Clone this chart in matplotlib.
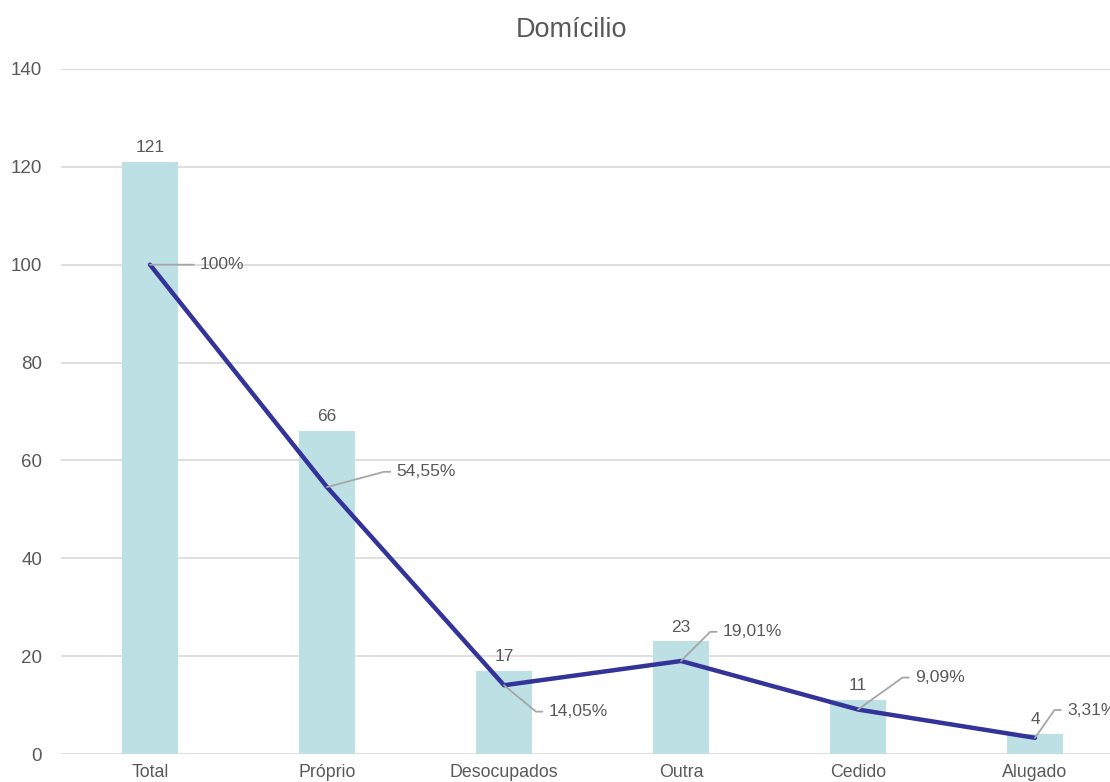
import numpy as np
import matplotlib
matplotlib.use("Agg")
import matplotlib.pyplot as plt

categories = ["Total", "Próprio", "Desocupados", "Outra", "Cedido", "Alugado"]
counts = [121, 66, 17, 23, 11, 4]
percents = [100, 54.55, 14.05, 19.01, 9.09, 3.31]
pct_labels = ["100%", "54,55%", "14,05%", "19,01%", "9,09%", "3,31%"]

# label offsets for the percentage labels (points)
pct_offsets = [(36, 0), (50, 11), (32, -19), (30, 21), (41, 23), (23, 20)]

plt.rcParams['font.family'] = ['Liberation Sans', 'DejaVu Sans']
TXT = "#595959"

fig = plt.figure(figsize=(11.1, 7.82), dpi=100)
ax = fig.add_axes([0.0554, 0.0358, 0.9568, 0.876])

x = np.arange(len(categories))
ax.bar(x, counts, width=0.316, color="#BCE0E3", zorder=2)
ax.plot(x, percents, color="#33339A", lw=3.2, solid_capstyle="round",
        solid_joinstyle="round", zorder=4)

for i, c in enumerate(counts):
    ax.annotate(str(c), xy=(i, c), xytext=(0, 5), textcoords="offset points",
                ha="center", va="bottom", fontsize=12.5, color=TXT)

for i, (p, lab) in enumerate(zip(percents, pct_labels)):
    dx, dy = pct_offsets[i]
    if dy == 0:
        cs = "arc3"
    else:
        ang = np.degrees(np.arctan2(dy, dx - 9))
        cs = "angle,angleA=0,angleB=%f,rad=0" % ang
    ax.annotate(lab, xy=(i, p), xytext=(dx, dy), textcoords="offset points",
                ha="left", va="center", fontsize=12.6, color=TXT,
                bbox=dict(boxstyle="square,pad=0.35", fc="none", ec="none"),
                arrowprops=dict(arrowstyle="-", color="#A6A6A6", lw=1.3,
                                shrinkA=0, shrinkB=0, connectionstyle=cs,
                                relpos=(0, 0.5)),
                zorder=5, annotation_clip=False)

ax.set_xlim(-0.5, len(categories) - 0.5)
ax.set_ylim(0, 140)
ax.set_yticks(np.arange(0, 141, 20))
ax.set_xticks(x)
ax.set_xticklabels(categories)
ax.tick_params(axis="y", length=0, pad=14, labelsize=13.5, labelcolor=TXT)
ax.tick_params(axis="x", length=0, pad=7, labelsize=12.8, labelcolor=TXT)
ax.grid(axis="y", color="#D9D9D9", lw=1.2, zorder=0)
ax.set_axisbelow(True)
for s in ax.spines.values():
    s.set_visible(False)

fig.text(571 / 1110, 1 - 30 / 782, "Domícilio", ha="center", va="center",
         fontsize=19.5, color=TXT)

fig.savefig("out.png", dpi=100)
